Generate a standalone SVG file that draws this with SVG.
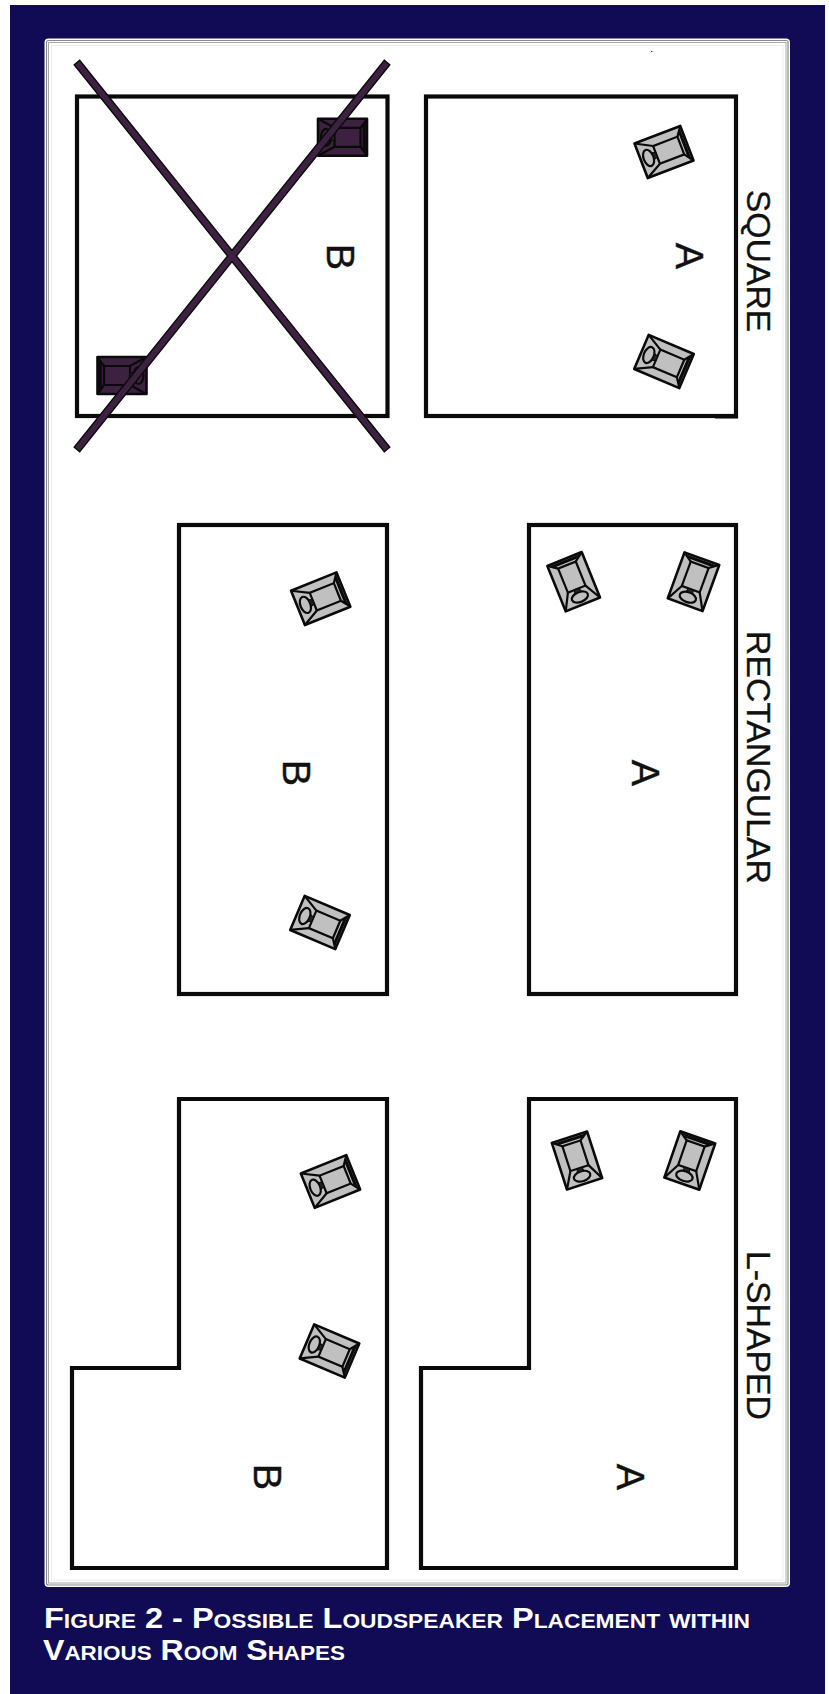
<svg xmlns="http://www.w3.org/2000/svg" width="829" height="1694" viewBox="0 0 829 1694">
<style>
.room{fill:#fff;stroke:#0a0a0a;stroke-width:4.200;stroke-linejoin:miter}
.big{font-family:"Liberation Sans",Arial,sans-serif;font-size:33.800px;fill:#111;stroke:#111;stroke-width:.3}
.let{font-family:"Liberation Sans",Arial,sans-serif;font-size:39.500px;fill:#111;stroke:#111;stroke-width:.4}
.cap{font-family:"Liberation Sans",Arial,sans-serif;font-weight:700;font-size:30px;font-variant:small-caps;fill:#fff}
.grey{fill:#c0c0c0}
.dark{fill:#3d2140}
</style>
<defs>
<g id="spk" stroke="#0a0a0a" stroke-width="2.200" stroke-linejoin="round">
<rect x="-24.500" y="-18.500" width="49" height="37" stroke-width="2.600"/>
<rect x="-8" y="-9.500" width="26" height="19"/>
<path d="M-24.500-18.500L-8-9.500M24.500-18.500L18-9.500M-24.500 18.500L-8 9.500M24.500 18.500L18 9.500" fill="none"/>
<path d="M21-13V13M22.500-15V15" fill="none" stroke-width="1.600"/>
<ellipse cx="-16.500" cy="0" rx="5" ry="8.500" stroke-width="2.200"/>
<path d="M-11.500-3.500L-8-2.500V2.500L-11.500 3.500Z" fill="#222" stroke-width="1"/>
</g>
</defs>
<rect width="829" height="1694" fill="#fff"/>
<rect x="10" y="5" width="815" height="1689" fill="#110b56"/>
<g id="panel" fill="none">
<rect x="44.500" y="38.500" width="745.500" height="1548.500" rx="4" fill="#fff"/>
<rect x="46.500" y="40.500" width="741.500" height="1544.500" rx="2" stroke="#8a8a8a" stroke-width="1.200"/>
<rect x="48.500" y="42.500" width="737.500" height="1540.500" stroke="#a8a8a8" stroke-width="1"/>
<rect x="51.500" y="45.500" width="731.500" height="1534.500" stroke="#ececec" stroke-width="1"/>
<rect x="651" y="51" width="1.500" height="1" fill="#333"/>
</g>
<g id="connectors"></g>
<g id="room-square-a">
<rect class="room" x="426" y="96.500" width="310" height="319.500"/>
<rect x="715" y="415" width="23" height="3.500" fill="#0a0a0a"/>
<use href="#spk" class="grey" transform="translate(664 152) rotate(-21)"/>
<use href="#spk" class="grey" transform="translate(664 361.500) rotate(23)"/>
<text class="let" transform="translate(676 256) rotate(90)" text-anchor="middle">A</text>
<text class="big" transform="translate(747 261) rotate(90)" text-anchor="middle">SQUARE</text>
</g>
<g id="room-square-b">
<rect class="room" x="77" y="96.500" width="310.500" height="319.500"/>
<use href="#spk" class="dark" transform="translate(342.500 137.300)"/>
<use href="#spk" class="dark" transform="translate(122 375.500) rotate(180)"/>
<text class="let" transform="translate(327 257) rotate(90)" text-anchor="middle">B</text>
<path d="M76.500 62L387.500 450M387.500 62L76.500 450" stroke="#0a0a0a" stroke-width="8.400" fill="none"/>
<path d="M77.300 63L386.700 449M386.700 63L77.300 449" stroke="#3d2140" stroke-width="5.800" fill="none"/>
</g>
<g id="room-rect-a">
<rect class="room" x="529" y="525" width="207" height="469"/>
<use href="#spk" class="grey" transform="translate(573.700 581.700) rotate(-112)"/>
<use href="#spk" class="grey" transform="translate(693.500 581.700) rotate(-70)"/>
<text class="let" transform="translate(632 773) rotate(90)" text-anchor="middle">A</text>
<text class="big" transform="translate(747 757.500) rotate(90)" text-anchor="middle">RECTANGULAR</text>
</g>
<g id="room-rect-b">
<rect class="room" x="179" y="525" width="208" height="469"/>
<use href="#spk" class="grey" transform="translate(320.700 598.700) rotate(-22)"/>
<use href="#spk" class="grey" transform="translate(320 922.500) rotate(23)"/>
<text class="let" transform="translate(282.500 773) rotate(90)" text-anchor="middle">B</text>
</g>
<g id="room-l-a">
<path class="room" d="M529 1099H736V1568H421V1368H529Z"/>
<use href="#spk" class="grey" transform="translate(577 1160.500) rotate(-108)"/>
<use href="#spk" class="grey" transform="translate(689.800 1160.500) rotate(-71)"/>
<text class="let" transform="translate(616.500 1477) rotate(90)" text-anchor="middle">A</text>
<text class="big" transform="translate(747 1335.500) rotate(90)" text-anchor="middle">L-SHAPED</text>
</g>
<g id="room-l-b">
<path class="room" d="M179 1099H387V1568H72V1368H179Z"/>
<use href="#spk" class="grey" transform="translate(330.500 1181.500) rotate(-22)"/>
<use href="#spk" class="grey" transform="translate(329.500 1351) rotate(23)"/>
<text class="let" transform="translate(253.500 1477) rotate(90)" text-anchor="middle">B</text>
</g>
<g id="caption">
<text class="cap" x="44" y="1628" textLength="706" lengthAdjust="spacingAndGlyphs">Figure 2 - Possible Loudspeaker Placement within</text>
<text class="cap" x="43" y="1660" textLength="302" lengthAdjust="spacingAndGlyphs">Various Room Shapes</text>
</g>
</svg>
